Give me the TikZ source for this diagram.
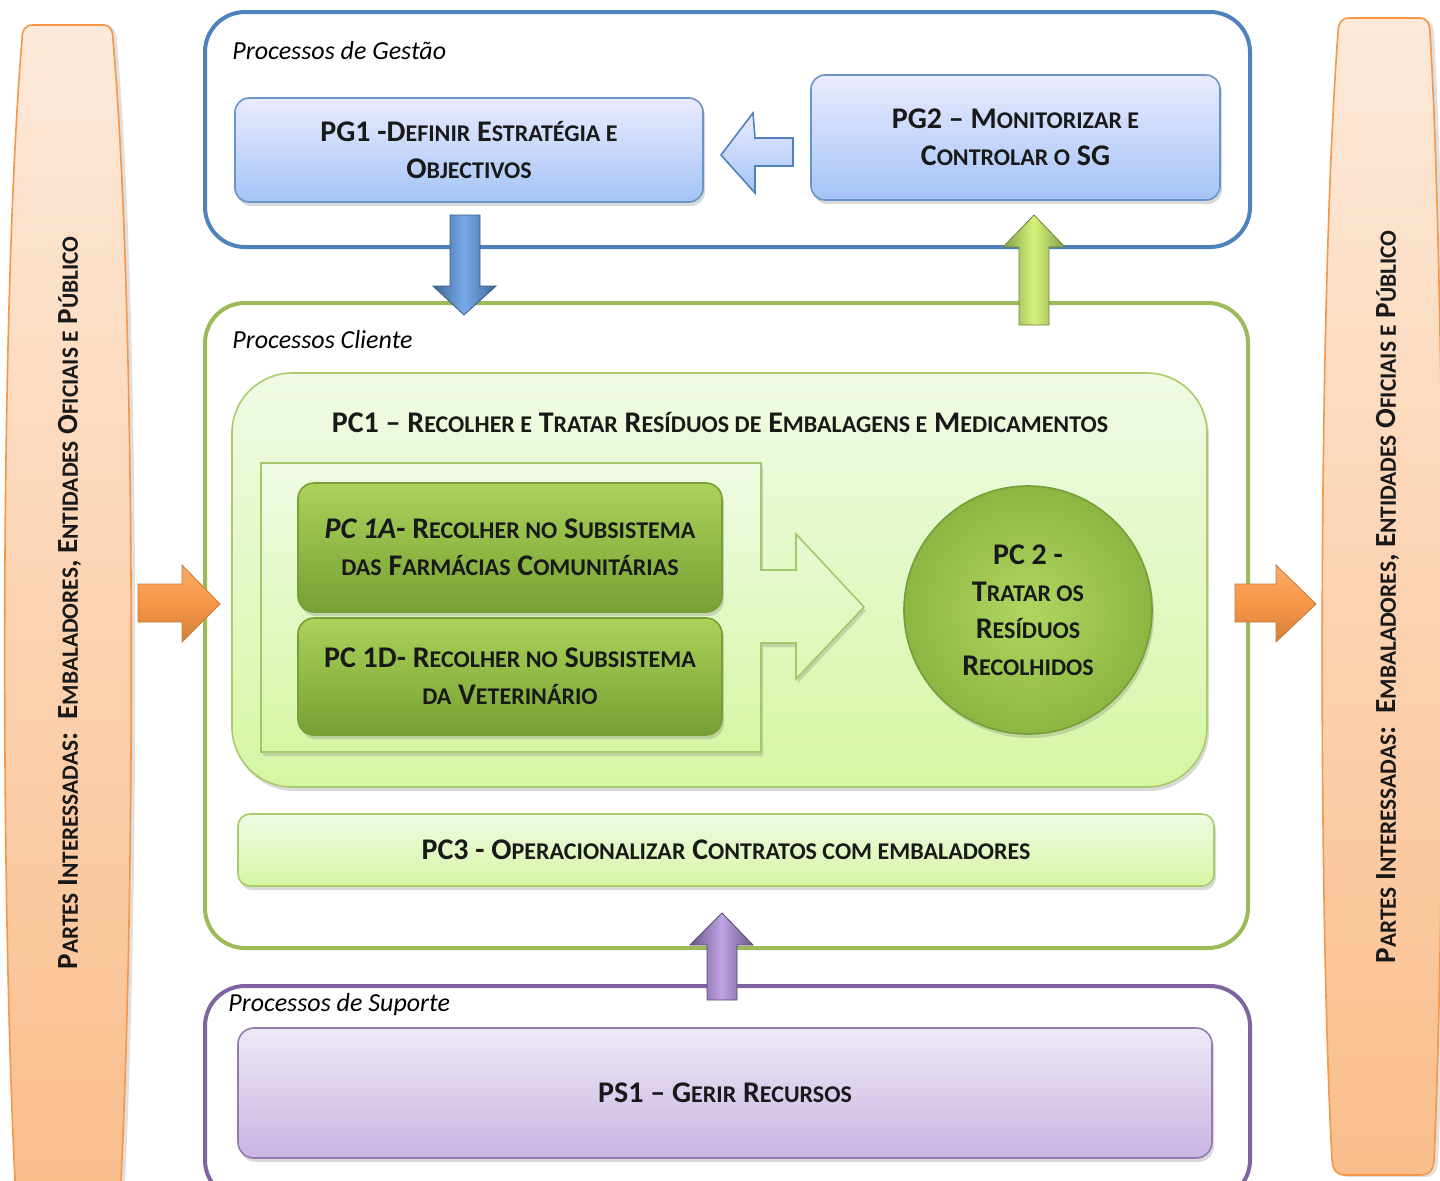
\documentclass[tikz,border=0pt]{standalone}
\usepackage{fontspec}
\setmainfont{Carlito}
\usepackage{tikz}
\usetikzlibrary{shadows}

% fake small caps (reduced capitals)
\newcommand{\ksc}[1]{{\fontsize{0.8\fontdimen6\font}{0pt}\selectfont\MakeUppercase{#1}}}

\definecolor{gblue}{HTML}{4F81BD}
\definecolor{ggreen}{HTML}{9BBB59}
\definecolor{gpurple}{HTML}{8064A2}
\definecolor{gorange}{HTML}{F79646}

\tikzset{
  frame/.style={draw, line width=2pt, rounded corners=20pt, minimum width=#1},
  boxtext/.style={font=\bfseries\fontsize{15}{18.5}\selectfont, align=center, text=black!90},
  areatitle/.style={font=\itshape\fontsize{13}{15}\selectfont, anchor=west, inner sep=0pt},
  softshadow/.style={drop shadow={opacity=0.3, shadow xshift=1pt, shadow yshift=-2pt}},
  pgbox/.style={boxtext, draw=gblue!85, line width=0.8pt, rounded corners=7pt,
    top color=blue!8!white, bottom color={rgb,255:red,164;green,196;blue,246}, softshadow},
  pcbox/.style={boxtext, draw={rgb,255:red,120;green,158;blue,56}, line width=0.8pt, rounded corners=8pt,
    top color={rgb,255:red,172;green,210;blue,90}, bottom color={rgb,255:red,118;green,160;blue,52}, softshadow},
  lightbox/.style={draw={rgb,255:red,168;green,204;blue,106}, line width=0.8pt,
    top color={rgb,255:red,240;green,250;blue,228}, bottom color={rgb,255:red,214;green,246;blue,164}, softshadow},
  psbox/.style={boxtext, draw=gpurple!85, line width=0.8pt, rounded corners=8pt,
    top color={rgb,255:red,238;green,232;blue,247}, bottom color={rgb,255:red,200;green,181;blue,227}, softshadow},
  pillar/.style={draw=gorange, line width=0.8pt, top color={rgb,255:red,253;green,233;blue,217},
    bottom color={rgb,255:red,250;green,190;blue,140}, drop shadow={opacity=0.25, shadow xshift=2pt, shadow yshift=-1pt}},
  pillartext/.style={font=\bfseries\fontsize{14.6}{16}\selectfont, rotate=90, text=black!90},
}

\begin{document}
\begin{tikzpicture}[x=0.5pt, y=-0.5pt]
  \useasboundingbox (0,0) rectangle (1440,1180);

  % stakeholders pillars
  \path[pillar] (22,40) .. controls (22,30) and (25,25) .. (33,25) -- (104,25)
    .. controls (110,25) and (113,30) .. (113,40) .. controls (136,300) and (136,900) .. (120,1200)
    -- (16,1200) .. controls (0,900) and (0,300) .. (22,40) -- cycle;
  \node[pillartext] (stkleft) at (70,603)
    {P\ksc{artes} I\ksc{nteressadas}:\ \ E\ksc{mbaladores}, E\ksc{ntidades} O\ksc{ficiais e} P\ksc{úblico}};
  \path[pillar] (1338,33) .. controls (1338,24) and (1341,18) .. (1349,18) -- (1420,18)
    .. controls (1427,18) and (1430,24) .. (1430,33) .. controls (1446,300) and (1446,900) .. (1434,1160)
    .. controls (1433,1170) and (1430,1175) .. (1420,1175) -- (1345,1175)
    .. controls (1336,1175) and (1333,1170) .. (1332,1160) .. controls (1318,900) and (1318,300) .. (1338,33) -- cycle;
  \node[pillartext] (stkright) at (1388,597)
    {P\ksc{artes} I\ksc{nteressadas}:\ \ E\ksc{mbaladores}, E\ksc{ntidades} O\ksc{ficiais e} P\ksc{úblico}};

  % management processes
  \node[frame=522.5pt, draw=gblue, minimum height=117.5pt] (gestao) at (727.5,129.5) {};
  \node[areatitle] (gestaolbl) at (232,51) {Processos de Gestão};
  \node[pgbox, minimum width=234pt, minimum height=52pt] (pg1) at (469,150)
    {PG1 -D\ksc{efinir} E\ksc{stratégia e}\\O\ksc{bjectivos}};
  \node[pgbox, minimum width=204.5pt, minimum height=62.5pt] (pg2) at (1015.5,137.5)
    {PG2 – M\ksc{onitorizar e}\\C\ksc{ontrolar o} SG};
  \path[draw=gblue, line width=0.8pt, top color=blue!8!white, bottom color={rgb,255:red,164;green,196;blue,246}]
    (793,138) -- (755,138) -- (753,113) -- (721,155) -- (755,193) -- (755,166) -- (793,166) -- cycle;

  % client processes
  \node[frame=521.5pt, draw=ggreen, minimum height=322.5pt] (cliente) at (726.5,625.5) {};
  \node[areatitle] (clientelbl) at (232,340) {Processos Cliente};
  \node[lightbox, rounded corners=30pt, minimum width=487.5pt, minimum height=207pt] (pc1) at (719.5,580) {};
  \node[boxtext] (pc1title) at (720,423)
    {PC1 – R\ksc{ecolher e} T\ksc{ratar} R\ksc{esíduos de} E\ksc{mbalagens e} M\ksc{edicamentos}};
  \path[lightbox, draw={rgb,255:red,163;green,199;blue,106}]
    (261,463) -- (761,463) -- (761,570) -- (796,570) -- (796,534) -- (864,607)
    -- (796,679) -- (796,643) -- (761,643) -- (761,752) -- (261,752) -- cycle;
  \node[pcbox, minimum width=212pt, minimum height=64.5pt] (pc1a) at (510,547.5)
    {\textit{PC 1A}- R\ksc{ecolher no} S\ksc{ubsistema}\\\ksc{das} F\ksc{armácias} C\ksc{omunitárias}};
  \node[pcbox, minimum width=212pt, minimum height=58.5pt] (pc1d) at (510,676.5)
    {PC 1D- R\ksc{ecolher no} S\ksc{ubsistema}\\\ksc{da} V\ksc{eterinário}};
  \node[boxtext, circle, minimum size=124pt, draw={rgb,255:red,118;green,158;blue,56}, line width=0.8pt,
    inner color={rgb,255:red,176;green,214;blue,96}, outer color={rgb,255:red,140;green,182;blue,66}, softshadow]
    (pc2) at (1028,610) {PC 2 -\\T\ksc{ratar os}\\R\ksc{esíduos}\\R\ksc{ecolhidos}};
  \node[lightbox, boxtext, rounded corners=6pt, minimum width=488pt, minimum height=36pt] (pc3) at (726,850)
    {PC3 - O\ksc{peracionalizar} C\ksc{ontratos com embaladores}};

  % support processes
  \node[frame=522.5pt, draw=gpurple, minimum height=107pt] (suporte) at (727.5,1093) {};
  \node[areatitle] (suportelbl) at (228,1005) {Processos de Suporte};
  \node[psbox, minimum width=487pt, minimum height=65pt] (ps1) at (725,1093) {PS1 – G\ksc{erir} R\ksc{ecursos}};

  % block arrows
  \path[draw=gblue!70!black, line width=0.4pt, left color=gblue!80!black, right color=gblue!80!black,
    middle color={rgb,255:red,120;green,170;blue,235}]
    (450,215) -- (480,215) -- (480,286) -- (496,286) -- (464,315) -- (433,286) -- (450,286) -- cycle;
  \path[draw=ggreen!70!black, line width=0.4pt, left color=ggreen!85!black, right color=ggreen!85!black,
    middle color={rgb,255:red,214;green,242;blue,122}]
    (1019,325) -- (1049,325) -- (1049,247) -- (1065,247) -- (1034,215) -- (1003,247) -- (1019,247) -- cycle;
  \path[draw=gpurple!70!black, line width=0.4pt, left color=gpurple!85!black, right color=gpurple!85!black,
    middle color={rgb,255:red,190;green,165;blue,228}]
    (707,1000) -- (737,1000) -- (737,945) -- (753,945) -- (722,913) -- (690,945) -- (707,945) -- cycle;
  \path[draw=gorange!80!black, line width=0.4pt, top color=gorange!80!white, bottom color=gorange!85!black,
    middle color=gorange]
    (138,584) -- (182,584) -- (182,565) -- (220,604) -- (182,642) -- (182,622) -- (138,622) -- cycle;
  \path[draw=gorange!80!black, line width=0.4pt, top color=gorange!80!white, bottom color=gorange!85!black,
    middle color=gorange]
    (1235,584) -- (1276,584) -- (1276,565) -- (1316,604) -- (1276,642) -- (1276,622) -- (1235,622) -- cycle;
\end{tikzpicture}
\end{document}
